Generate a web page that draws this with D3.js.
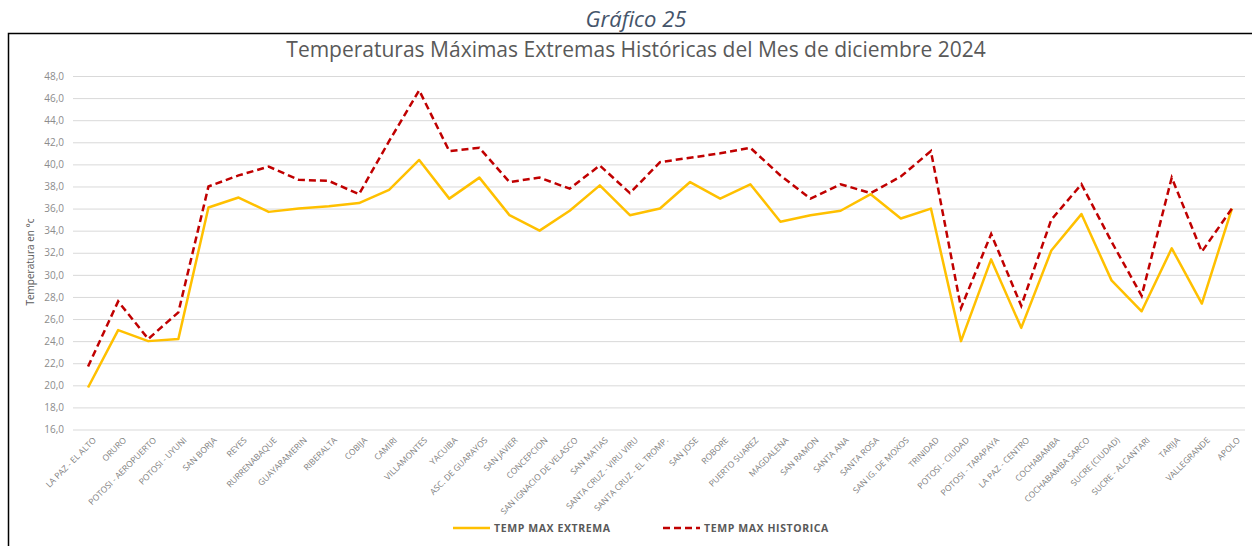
<!DOCTYPE html>
<html>
<head>
<meta charset="utf-8">
<script src="https://cdn.jsdelivr.net/npm/d3@7"></script>
<style>
  body { margin: 0; background: #fff; }
  svg { display: block; }
</style>
</head>
<body>
<div id="grafico"></div>
<script>
// datos
const estaciones = [
  "LA PAZ - EL ALTO", "ORURO", "POTOSI - AEROPUERTO", "POTOSI - UYUNI", "SAN BORJA",
  "REYES", "RURRENABAQUE", "GUAYARAMERIN", "RIBERALTA", "COBIJA", "CAMIRI",
  "VILLAMONTES", "YACUIBA", "ASC. DE GUARAYOS", "SAN JAVIER", "CONCEPCION",
  "SAN IGNACIO DE VELASCO", "SAN MATIAS", "SANTA CRUZ - VIRU VIRU",
  "SANTA CRUZ - EL TROMP.", "SAN JOSE", "ROBORE", "PUERTO SUAREZ", "MAGDALENA",
  "SAN RAMON", "SANTA ANA", "SANTA ROSA", "SAN IG. DE MOXOS", "TRINIDAD",
  "POTOSI - CIUDAD", "POTOSI - TARAPAYA", "LA PAZ - CENTRO", "COCHABAMBA",
  "COCHABAMBA SARCO", "SUCRE (CIUDAD)", "SUCRE - ALCANTARI", "TARIJA",
  "VALLEGRANDE", "APOLO"
];
const tempExtrema = [
  19.8, 25.0, 24.0, 24.2, 36.1, 37.0, 35.7, 36.0, 36.2, 36.5, 37.7, 40.4, 36.9,
  38.8, 35.4, 34.0, 35.8, 38.1, 35.4, 36.0, 38.4, 36.9, 38.2, 34.8, 35.4, 35.8,
  37.3, 35.1, 36.0, 24.0, 31.4, 25.2, 32.2, 35.5, 29.5, 26.7, 32.4, 27.4, 36.0
];
const tempHistorica = [
  21.7, 27.6, 24.2, 26.6, 38.0, 39.0, 39.8, 38.6, 38.5, 37.3, 42.1, 46.7, 41.2,
  41.5, 38.4, 38.8, 37.8, 39.9, 37.4, 40.2, 40.6, 41.0, 41.5, 39.0, 36.9, 38.2,
  37.4, 38.9, 41.2, 27.0, 33.7, 27.2, 35.0, 38.2, 33.0, 28.1, 38.8, 32.1, 36.0
];
const ticksY = d3.range(16, 48.1, 2);

const ancho = 1252, alto = 546;
const margen = { top: 76, right: 5, bottom: 116.5, left: 73 };
const ancho2 = ancho - margen.left - margen.right;
const alto2 = alto - margen.top - margen.bottom;

const svg = d3.select("#grafico").append("svg")
  .attr("width", ancho).attr("height", alto);

// titulo del documento
svg.append("text")
  .attr("x", 636).attr("y", 27)
  .attr("text-anchor", "middle")
  .style("font-family", "'Open Sans', sans-serif")
  .style("font-style", "italic")
  .style("font-size", "22px")
  .attr("fill", "#44546a")
  .text("Gráfico 25");

// marco del grafico
svg.append("path")
  .attr("d", `M8.5,${alto} V33.5 H${ancho}`)
  .attr("fill", "none").attr("stroke", "#000").attr("stroke-width", 1.5);

// titulo
svg.append("text")
  .attr("x", 636).attr("y", 57)
  .attr("text-anchor", "middle")
  .style("font-family", "'Open Sans', sans-serif")
  .style("font-size", "21px")
  .attr("fill", "#595959")
  .text("Temperaturas Máximas Extremas Históricas del Mes de diciembre 2024");

const g = svg.append("g")
  .attr("transform", `translate(${margen.left},${margen.top})`);

// escalas
const x = d3.scalePoint().domain(estaciones).range([0, ancho2]).padding(0.5);
const y = d3.scaleLinear().domain([16, 48]).range([alto2, 0]);

// lineas de grilla + eje y
g.append("g")
  .call(d3.axisLeft(y).tickValues(ticksY).tickSize(-(ancho2 - 2))
    .tickFormat(d => d3.format(".1f")(d).replace(".", ",")))
  .call(a => a.select(".domain").remove())
  .call(a => a.selectAll("line").attr("stroke", "#d9d9d9"))
  .call(a => a.selectAll("text")
    .attr("x", -9)
    .attr("fill", "#8c8c8c")
    .style("font-family", "'Open Sans', sans-serif")
    .style("font-size", "10px"));

// eje x
g.append("g")
  .attr("transform", `translate(0,${alto2})`)
  .call(d3.axisBottom(x).tickSize(0))
  .call(a => a.select(".domain").remove())
  .call(a => a.selectAll("text")
    .attr("transform", "translate(4,7) rotate(-45)")
    .attr("dy", "0.35em")
    .style("text-anchor", "end")
    .attr("fill", "#7f7f7f")
    .style("font-family", "'Open Sans', sans-serif")
    .style("font-size", "8.5px"));

// etiqueta eje y
svg.append("text")
  .attr("transform", "translate(34,262) rotate(-90)")
  .attr("text-anchor", "middle")
  .style("font-family", "'Open Sans', sans-serif")
  .style("font-size", "10px")
  .attr("fill", "#595959")
  .text("Temperatura en °c");

const linea = d3.line()
  .x((d, i) => x(estaciones[i]))
  .y(d => y(d));

g.append("path")
  .datum(tempExtrema)
  .attr("d", linea)
  .attr("fill", "none")
  .attr("stroke", "#ffc000")
  .attr("stroke-width", 2.5)
  .attr("stroke-linejoin", "round");

g.append("path")
  .datum(tempHistorica)
  .attr("d", linea)
  .attr("fill", "none")
  .attr("stroke", "#c00000")
  .attr("stroke-width", 2.5)
  .attr("stroke-dasharray", "7,4");

// leyenda
const leyenda = [
  { nombre: "TEMP MAX EXTREMA", color: "#ffc000", dash: null, x: 453 },
  { nombre: "TEMP MAX HISTORICA", color: "#c00000", dash: "7,4", x: 663 }
];
const ley = svg.selectAll(".ley").data(leyenda).enter().append("g")
  .attr("transform", d => `translate(${d.x},528)`);
ley.append("line")
  .attr("x1", 0).attr("x2", 37)
  .attr("stroke", d => d.color)
  .attr("stroke-width", 2.5)
  .attr("stroke-dasharray", d => d.dash);
ley.append("text")
  .attr("x", 41).attr("dy", "0.35em")
  .style("font-family", "'Open Sans', sans-serif")
  .style("font-size", "10.5px")
  .style("font-weight", "bold")
  .style("letter-spacing", "0.6px")
  .attr("fill", "#595959")
  .text(d => d.nombre);
</script>
</body>
</html>
